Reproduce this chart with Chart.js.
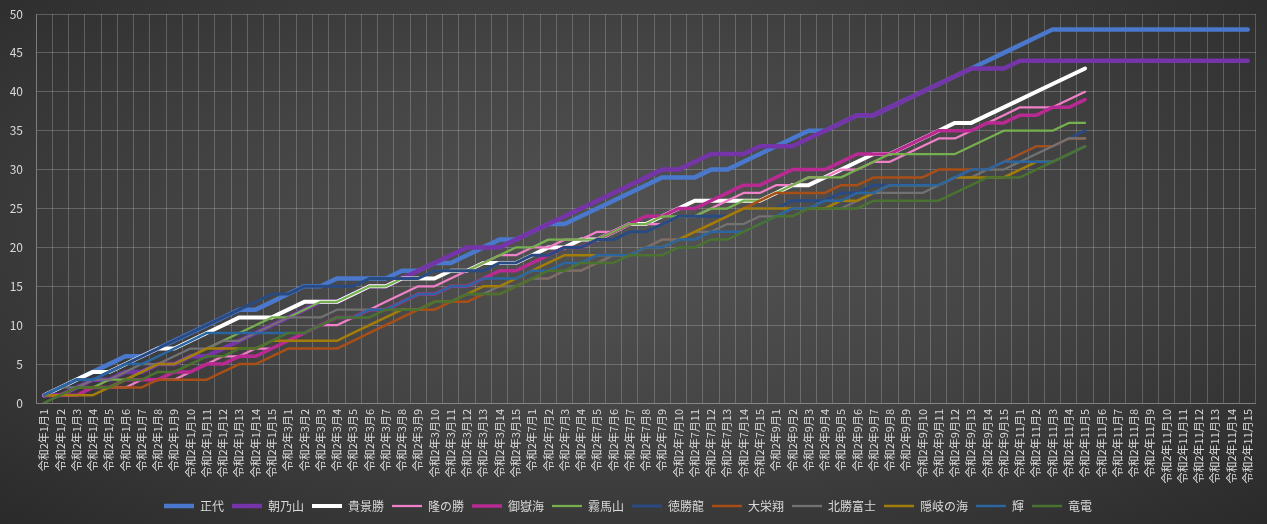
<!DOCTYPE html>
<html>
<head>
<meta charset="utf-8">
<script src="https://cdn.jsdelivr.net/npm/chart.js@4"></script>
<style>
  html, body { margin: 0; padding: 0; }
  body {
    width: 1267px; height: 524px; overflow: hidden;
    background: radial-gradient(ellipse at 50% 45%, #535353 0%, #454545 45%, #343434 80%, #2a2a2a 100%);
  }
  #wrap { position: relative; width: 1267px; height: 524px; }
</style>
</head>
<body>
<div id="wrap"><canvas id="myChart"></canvas></div>
<script>
// 場所ごとの日付ラベル (1月,3月,7月,9月,11月 × 15日)
const months = [1, 3, 7, 9, 11];
const days = [1, 2, 3, 4, 5, 6, 7, 8, 9, 10, 11, 12, 13, 14, 15];
const labels = [];
months.forEach(m => days.forEach(d => labels.push('令和2年' + m + '月' + d)));

const names = ['正代', '朝乃山', '貴景勝', '隆の勝', '御嶽海', '霧馬山', '徳勝龍', '大栄翔', '北勝富士', '隠岐の海', '輝', '竜電'];

// 累計勝ち星
const shodai = [1,2,3,4,5,6,6,7,8,9,10,11,12,12,13, 14,15,15,16,16,16,16,17,17,18,18,19,20,21,21,
  22,23,23,24,25,26,27,28,29,29,29,30,30,31,32, 33,34,35,35,36,37,37,38,39,40,41,42,43,44,45,
  46,47,48,48,48,48,48,48,48,48,48,48,48,48,48];
const asanoyama = [1,1,2,3,3,4,4,5,5,6,6,7,8,9,10, 11,12,13,13,14,15,15,16,17,18,19,20,20,20,21,
  22,23,24,25,26,27,28,29,30,30,31,32,32,32,33, 33,33,34,35,36,37,37,38,39,40,41,42,43,43,43,
  44,44,44,44,44,44,44,44,44,44,44,44,44,44,44];
const takakeisho = [1,2,3,4,4,5,6,7,7,8,9,10,11,11,11, 12,13,13,13,14,15,15,16,16,16,17,17,18,18,18,
  19,20,20,21,21,22,23,23,24,25,26,26,26,26,26, 27,28,28,29,30,31,32,32,33,34,35,36,36,37,38,
  39,40,41,42,43];
const takanosho = [1,1,2,2,2,2,3,3,3,4,5,6,6,7,7, 8,9,10,10,11,12,13,14,15,15,16,17,18,19,19,
  20,20,21,21,22,22,23,23,23,24,24,25,26,27,27, 28,28,29,29,30,30,31,31,32,33,34,34,35,36,37,
  38,38,38,39,40];
const mitakeumi = [1,1,1,2,2,3,3,3,4,4,5,5,6,6,7, 8,9,10,11,11,12,12,13,14,14,15,15,16,17,17,
  18,19,20,20,21,22,23,24,24,25,25,26,27,28,28, 29,30,30,30,31,32,32,32,33,34,35,35,35,36,36,
  37,37,38,38,39];
const kiribayama = [1,1,2,2,3,3,4,5,5,6,7,8,9,10,11, 11,12,13,13,14,15,15,16,16,17,17,17,18,19,20,
  20,21,21,21,21,22,23,23,24,24,24,25,25,26,26, 27,28,29,29,29,30,31,32,32,32,32,32,33,34,35,
  35,35,35,36,36];
const tokushoryu = [1,2,3,3,4,5,6,7,8,9,10,11,12,13,14, 14,15,15,15,15,16,16,16,16,17,17,17,17,18,18,
  19,19,20,20,21,21,22,22,23,24,24,24,24,25,25, 25,26,26,26,27,27,28,28,28,28,28,29,30,30,31,
  32,33,33,34,35];
const daieisho = [1,1,2,2,2,2,2,3,3,3,3,4,5,5,6, 7,7,7,7,8,9,10,11,12,12,13,13,14,14,15,
  16,16,17,17,18,19,19,20,21,21,22,23,24,25,26, 27,27,27,27,28,28,29,29,29,29,30,30,30,30,31,
  32,33,33,34,34];
const hokutofuji = [1,2,2,3,3,4,5,5,6,7,7,8,8,9,10, 11,11,11,12,12,12,12,12,12,13,13,14,14,15,15,
  16,16,17,17,18,19,19,20,21,21,22,22,23,23,24, 24,25,25,25,25,26,27,27,27,27,28,29,29,30,30,
  31,32,33,34,34];
const okinoumi = [1,1,1,1,2,3,4,5,5,6,7,7,7,7,8, 8,8,8,8,9,10,11,12,12,13,13,14,15,15,16,
  17,18,19,19,19,19,19,20,20,21,22,23,24,25,25, 25,25,25,25,26,26,27,28,28,28,28,29,29,29,29,
  30,31,31,32,33];
const kagayaki = [1,2,3,3,4,5,5,6,7,8,9,9,9,9,9, 9,9,10,11,11,12,12,13,14,14,15,15,16,16,16,
  17,17,18,18,19,19,19,20,20,21,21,22,22,22,23, 24,25,25,26,26,27,27,28,28,28,28,29,30,30,31,
  31,31,31,32,33];
const ryuden = [0,1,2,2,2,3,3,4,4,5,6,6,7,7,8, 9,9,10,11,11,11,12,12,12,13,13,14,14,14,15,
  16,17,17,18,18,18,19,19,19,20,20,21,21,22,23, 24,24,25,25,25,25,26,26,26,26,26,27,28,29,29,
  29,30,31,32,33];

const yTicks = [0, 5, 10, 15, 20, 25, 30, 35, 40, 45, 50];

const series = [shodai, asanoyama, takakeisho, takanosho, mitakeumi, kiribayama,
  tokushoryu, daieisho, hokutofuji, okinoumi, kagayaki, ryuden];
const colors = ['#4A78CC', '#7535A8', '#FFFFFF', '#F080C8', '#B82A92', '#76B04E',
  '#2A4A82', '#A84F17', '#727272', '#A37D0A', '#2B66A0', '#4A7331'];
const widths = [4.5, 4.5, 4, 2.25, 3.5, 2.25, 3, 2.5, 2.25, 2.5, 2.5, 2.5];

const textColor = '#d9d9d9';
const gridColor = 'rgba(210,210,210,0.27)';
const font = "'Noto Sans CJK JP', 'Noto Sans', sans-serif";

const datasets = series.map((s, i) => ({
  label: names[i],
  data: s,
  borderColor: colors[i],
  backgroundColor: colors[i],
  borderWidth: widths[i],
  pointRadius: 0,
  pointHoverRadius: 0,
  tension: 0,
  borderJoinStyle: 'round',
  borderCapStyle: 'round',
  order: series.length - 1 - i
}));

new Chart(document.getElementById('myChart'), {
  type: 'line',
  data: { labels: labels, datasets: datasets },
  options: {
    responsive: true,
    maintainAspectRatio: false,
    animation: false,
    layout: { padding: { top: 14, right: 11, bottom: 2, left: 0 } },
    plugins: {
      tooltip: { enabled: false },
      legend: {
        position: 'bottom',
        labels: {
          color: textColor,
          font: { family: font, size: 12 },
          usePointStyle: true,
          pointStyle: 'line',
          pointStyleWidth: 30,
          padding: 8,
          sort: (a, b) => a.datasetIndex - b.datasetIndex
        }
      }
    },
    scales: {
      x: {
        offset: true,
        grid: { color: gridColor, offset: true, drawTicks: false },
        border: { color: gridColor },
        ticks: {
          color: textColor,
          font: { family: font, size: 11 },
          autoSkip: false,
          minRotation: 90,
          maxRotation: 90,
          padding: 6
        },
        afterFit(scale) { scale.height = 89; }
      },
      y: {
        min: 0,
        max: 50,
        grid: { color: gridColor, drawTicks: false },
        border: { color: gridColor },
        afterBuildTicks(scale) { scale.ticks = yTicks.map(v => ({ value: v })); },
        ticks: {
          color: textColor,
          font: { family: font, size: 12 },
          padding: 13
        },
        afterFit(scale) {
          scale.width = 36;
          scale.paddingTop = 0;
          scale.paddingBottom = 0;
        }
      }
    }
  }
});
</script>
</body>
</html>
